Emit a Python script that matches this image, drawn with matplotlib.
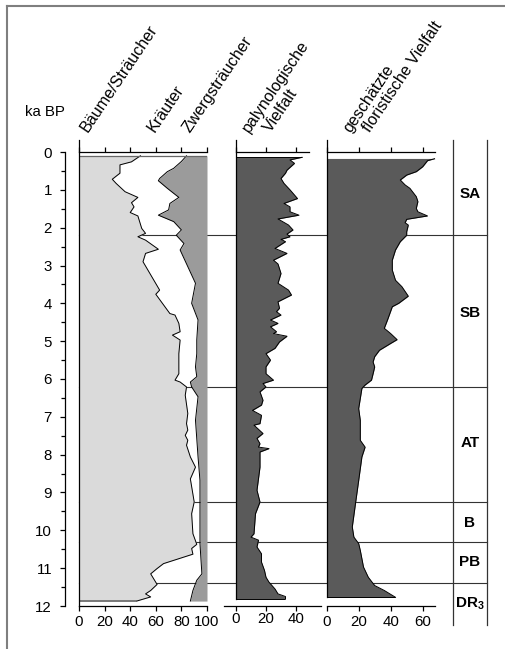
import matplotlib
matplotlib.use("Agg")
import matplotlib.pyplot as plt
import matplotlib.transforms as mtransforms
from matplotlib.lines import Line2D
from matplotlib.ticker import MultipleLocator

plt.rcParams["font.family"] = ["Liberation Sans", "DejaVu Sans"]
plt.rcParams["mathtext.fontset"] = "custom"
plt.rcParams["mathtext.rm"] = "Liberation Sans"
plt.rcParams["mathtext.bf"] = "Liberation Sans:bold"
plt.rcParams["font.size"] = 10.8

# --- data (ka BP vs. value) ---
baeume_ka = [0.1, 0.26, 0.34, 0.56, 0.72, 0.83, 1.05, 1.2, 1.34, 1.45, 1.6, 1.69,
             2.02, 2.15, 2.24, 2.33, 2.57, 2.68, 2.9, 3.65, 3.76, 4.27, 4.31, 4.53,
             4.75, 4.84, 4.97, 5.33, 5.86, 6.03, 6.08, 6.21, 6.43, 6.91, 7.18, 7.35,
             7.49, 7.62, 7.75, 8.06, 8.33, 8.64, 9.25, 9.56, 10.09, 10.37, 10.48,
             10.63, 10.88, 11.01, 11.15, 11.43, 11.59, 11.68, 11.76, 11.87]
baeume = [48, 41, 32, 32, 26, 29, 36, 46, 41, 43, 40, 46, 49, 52, 46, 52, 62, 52,
          50, 63, 60, 71, 75, 78, 79, 73, 79, 78, 78, 75, 79, 84, 83, 85, 84, 85,
          83, 85, 84, 87, 91, 87, 90, 88, 89, 92, 88, 89, 66, 61, 56, 61, 56, 52,
          56, 45]

zwerg_ka = [0.1, 0.25, 0.43, 0.52, 0.7, 0.76, 0.96, 1.2, 1.36, 1.53, 1.67, 1.84,
            2.06, 2.2, 2.42, 2.59, 3.03, 3.47, 4.0, 4.44, 4.97, 5.33, 5.68, 5.94,
            6.08, 6.21, 6.47, 7.09, 8.06, 8.68, 10.35, 11.15, 11.32, 11.59, 11.87]
zwerg = [16, 20, 26, 31, 37, 38, 31, 22, 29, 30, 38, 26, 20, 24, 18, 21, 15, 9,
         12, 7, 8, 8, 9, 8, 13, 12, 7, 9, 7, 5.5, 5.5, 4, 8, 11, 13]

palyn_ka = [0.14, 0.21, 0.3, 0.48, 0.56, 0.7, 0.83, 1.0, 1.23, 1.36, 1.45, 1.58,
            1.67, 1.77, 1.93, 2.06, 2.17, 2.24, 2.31, 2.37, 2.55, 2.68, 2.86, 2.96,
            3.21, 3.47, 3.65, 3.78, 3.96, 4.13, 4.22, 4.31, 4.44, 4.53, 4.62, 4.75,
            4.8, 4.87, 5.02, 5.19, 5.33, 5.5, 5.68, 5.86, 6.03, 6.12, 6.21, 6.34,
            6.56, 6.69, 6.83, 6.96, 7.18, 7.22, 7.44, 7.57, 7.71, 7.8, 7.84, 7.93,
            8.33, 8.94, 9.25, 9.56, 10.09, 10.18, 10.26, 10.44, 10.62, 10.84,
            11.06, 11.24, 11.37, 11.55, 11.68, 11.75, 11.81]
palyn = [44, 36, 39, 34, 33, 30, 32, 36, 41, 32, 36, 36, 42, 28, 35, 38, 34, 36,
         30, 33, 26, 34, 25, 28, 30, 28, 35, 37, 28, 29, 27, 30, 23, 28, 23, 27,
         25, 34, 29, 26, 20, 23, 20, 20, 25, 18, 20, 16, 18, 17, 11, 17, 16, 12,
         18, 14, 16, 15, 22, 16, 16, 14, 16, 13, 12, 10, 15, 14, 17, 17, 19, 20,
         22, 26, 28, 33, 33]

florist_ka = [0.17, 0.23, 0.39, 0.52, 0.61, 0.74, 0.87, 0.96, 1.18, 1.31, 1.49,
              1.58, 1.69, 1.78, 1.87, 1.93, 2.11, 2.2, 2.37, 2.59, 2.86, 3.12, 3.39,
              3.56, 3.81, 4.0, 4.09, 4.44, 4.66, 4.8, 4.96, 5.06, 5.24, 5.41, 5.55,
              5.68, 5.86, 6.03, 6.16, 6.25, 6.78, 7.09, 7.62, 7.8, 8.06, 8.68, 9.29,
              9.91, 10.18, 10.35, 10.53, 10.97, 11.24, 11.46, 11.59, 11.77]
florist = [68, 63, 60, 56, 50, 46, 49, 52, 56, 57, 56, 57, 63, 50, 49, 51, 50, 50,
           46, 43, 41, 41, 43, 47, 51, 45, 41, 38, 36, 40, 44, 40, 33, 30, 29, 30,
           29, 28, 24, 22, 20, 21, 21, 24, 22, 20, 18, 16, 17, 20, 21, 23, 26, 30,
           36, 43]

zone_bounds = [2.2, 6.2, 9.25, 10.3, 11.4]
zone_names = ["SA", "SB", "AT", "B", "PB", r"$\mathbf{DR_3}$"]
zone_centers = [1.1, 4.25, 7.7, 9.8, 10.85, 11.95]

W, H = 506, 649
fig = plt.figure(figsize=(W / 100, H / 100), dpi=100)


def fx(px):
    return px / W


def fy(py):
    return 1 - py / H


y_top, y_bot = 152, 606


def add_panel(x0, x1):
    a = fig.add_axes([fx(x0), fy(y_bot), fx(x1) - fx(x0), fy(y_top) - fy(y_bot)])
    a.patch.set_alpha(0)
    a.set_ylim(12, 0)
    a.set_yticks([])
    a.spines["right"].set_visible(False)
    a.tick_params(axis="x", top=True, bottom=True, labeltop=False, direction="out",
                  length=3.6, width=0.9, pad=3)
    for s in ("top", "bottom", "left"):
        a.spines[s].set_linewidth(0.9)
    return a


dark = "#5a5a5a"

# panel 1: pollen sums
ax1 = add_panel(79, 207)
ax1.set_xlim(0, 100)
ax1.set_xticks(range(0, 101, 20))
ax1.fill_betweenx(baeume_ka, 0, baeume, color="#dadada", lw=0)
ax1.plot(baeume, baeume_ka, color="black", lw=0.7)
zw_edge = [100 - z for z in zwerg]
ax1.fill_betweenx(zwerg_ka, zw_edge, 100, color="#9b9b9b", lw=0)
ax1.plot(zw_edge, zwerg_ka, color="black", lw=0.7)
ax1.hlines([baeume_ka[0]], 0, 100, color="#666666", lw=0.9)
ax1.hlines([baeume_ka[-1]], 0, baeume[-1], color="#666666", lw=1.2)
ax1.spines["left"].set_bounds(-0.33, 12)

# panel 2: palynological diversity
ax2 = add_panel(224, 321.5)
ax2.set_xlim(-8, 57)
ax2.set_xticks([0, 20, 40])
ax2.fill_betweenx(palyn_ka, 0, palyn, color=dark, lw=0)
ax2.plot(palyn, palyn_ka, color="black", lw=0.7)
ax2.hlines([palyn_ka[0], palyn_ka[-1]], 0, [palyn[0], palyn[-1]], color="black", lw=0.7)
ax2.spines["left"].set_position(("data", 0))
ax2.spines["left"].set_bounds(-0.33, palyn_ka[-1])
ax2.spines["top"].set_bounds(0, 49)
ax2.tick_params(axis="x", pad=0.5)

# panel 3: estimated floristic diversity
ax3 = add_panel(326.7, 435.5)
ax3.set_xlim(0, 68)
ax3.set_xticks([0, 20, 40, 60])
ax3.fill_betweenx(florist_ka, 0, florist, color=dark, lw=0)
ax3.plot(florist, florist_ka, color="black", lw=0.7)
ax3.hlines([florist_ka[-1]], 0, florist[-1], color="black", lw=0.7)
ax3.spines["left"].set_bounds(-0.33, florist_ka[-1])

# age axis
axy = fig.add_axes([fx(65), fy(y_bot), 0.0001, fy(y_top) - fy(y_bot)])
axy.patch.set_alpha(0)
axy.set_ylim(12, 0)
axy.set_xticks([])
for s in ("top", "bottom", "right"):
    axy.spines[s].set_visible(False)
axy.spines["left"].set_linewidth(0.9)
axy.yaxis.set_major_locator(MultipleLocator(1))
axy.yaxis.set_minor_locator(MultipleLocator(0.5))
axy.tick_params(axis="y", which="major", length=3.8, width=0.9, pad=5.5)
axy.tick_params(axis="y", which="minor", length=3.0, width=0.9)
fig.text(fx(25), fy(112), "ka BP", ha="left", va="center")

# zone boundaries and zone column (behind the panels)
blend = mtransforms.blended_transform_factory(fig.transFigure, ax1.transData)
for b in zone_bounds:
    fig.add_artist(Line2D([fx(79), fx(487.3)], [b, b], transform=blend,
                          color="#333333", lw=0.8, zorder=-1))
for xl in (452.7, 487.3):
    fig.add_artist(Line2D([fx(xl), fx(xl)], [-0.32, 12.5], transform=blend,
                          color="#333333", lw=0.9, zorder=-1))
for name, c in zip(zone_names, zone_centers):
    fig.text(fx(470), c, name, transform=blend, ha="center", va="center",
             fontweight="bold", fontsize=11)

# rotated column headers
heads = [
    (88, "Bäume/Sträucher"),
    (155, "Kräuter"),
    (190, "Zwergsträucher"),
    (249, "palynologische"),
    (271, "Vielfalt"),
    (351, "geschätzte"),
    (370, "floristische Vielfalt"),
]
for px, txt in heads:
    fig.text(fx(px), fy(133), txt, rotation=56, rotation_mode="anchor",
             ha="left", va="baseline", fontsize=11.6)

# frame of the original figure (top and left edges)
fig.add_artist(Line2D([fx(7), 1], [fy(6), fy(6)], color="#7f7f7f", lw=1.5))
fig.add_artist(Line2D([fx(7), fx(7)], [fy(6), 0], color="#7f7f7f", lw=1.5))

fig.savefig("out.png", dpi=100)
